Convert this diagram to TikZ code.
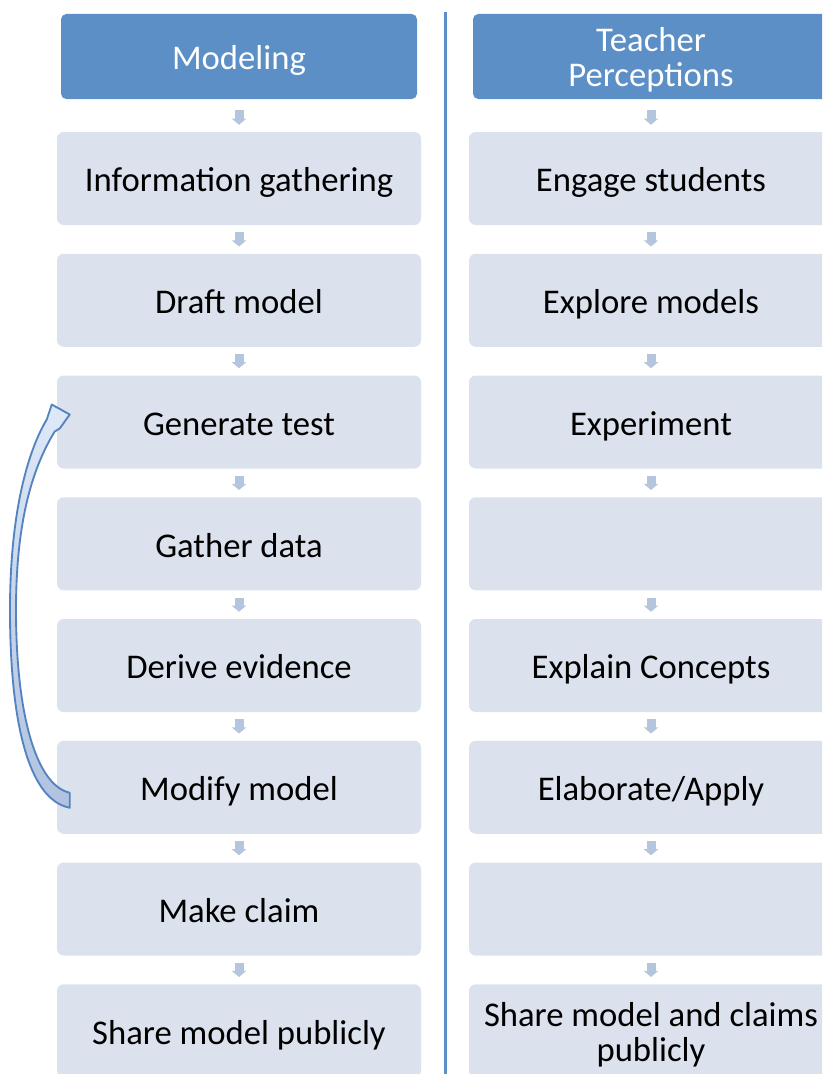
\documentclass[tikz,border=0pt]{standalone}
\usepackage{fontspec}
\setmainfont{Carlito}
\usetikzlibrary{arrows.meta,calc}
\definecolor{headblue}{RGB}{91,143,198}
\definecolor{boxgrey}{RGB}{219,226,237}
\definecolor{stubblue}{RGB}{180,197,222}
\definecolor{loopline}{RGB}{84,132,192}
\definecolor{looptop}{RGB}{222,233,248}
\definecolor{loopbottom}{RGB}{176,194,224}
\tikzset{
  headbox/.style={fill=headblue, rounded corners=4pt, text=white, align=center, minimum width=267pt, minimum height=63.75pt, inner sep=0pt, font=\fontsize{26}{26.25}\selectfont},
  stagebox/.style={fill=boxgrey, rounded corners=5pt, align=center, minimum width=273pt, minimum height=69.75pt, inner sep=0pt, font=\fontsize{26}{26.25}\selectfont},
  oneline/.style={text height=20pt, text depth=0pt},
  twoline/.style={text height=45.75pt, text depth=0pt},
  stub/.style={draw=stubblue, line width=6.75pt, shorten <=5.25pt, shorten >=5.25pt, -{Triangle[width=10.5pt,length=4.5pt]}},
  loopband/.style={top color=looptop, bottom color=loopbottom, draw=loopline, line width=1.4pt, line join=round},
  divider/.style={draw=headblue, line width=2.25pt}
}

\begin{document}
\begin{tikzpicture}[x=0.75pt,y=-0.75pt]
  \useasboundingbox (0,0) rectangle (822,1074);
  \clip (0,0) rectangle (822,1074);

  \node[headbox, oneline] (model) at (239,56.5) {Modeling};
  \node[stagebox, oneline] (info) at (239,178.5) {Information gathering};
  \node[stagebox, oneline] (draft) at (239,300.25) {Draft model};
  \node[stagebox, oneline] (gentest) at (239,422) {Generate test};
  \node[stagebox, oneline] (gather) at (239,543.75) {Gather data};
  \node[stagebox, oneline] (derive) at (239,665.5) {Derive evidence};
  \node[stagebox, oneline] (modify) at (239,787.25) {Modify model};
  \node[stagebox, oneline] (claim) at (239,909) {Make claim};
  \node[stagebox, oneline] (sharepub) at (239,1030.75) {Share model publicly};

  \node[headbox, twoline] (teacher) at (651,56.5) {Teacher\\Perceptions};
  \node[stagebox, oneline] (engage) at (651,178.5) {Engage students};
  \node[stagebox, oneline] (explore) at (651,300.25) {Explore models};
  \node[stagebox, oneline] (experiment) at (651,422) {Experiment};
  \node[stagebox] (blankone) at (651,543.75) {};
  \node[stagebox, oneline] (explain) at (651,665.5) {Explain Concepts};
  \node[stagebox, oneline] (elaborate) at (651,787.25) {Elaborate/Apply};
  \node[stagebox] (blanktwo) at (651,909) {};
  \node[stagebox, twoline] (shareclaims) at (651,1030.75) {Share model and claims\\publicly};

  \draw[divider] (445,12) -- (445,1074);

  \draw[stub, shorten <=8.25pt] (model) -- (info);
  \draw[stub] (info) -- (draft);
  \draw[stub] (draft) -- (gentest);
  \draw[stub] (gentest) -- (gather);
  \draw[stub] (gather) -- (derive);
  \draw[stub] (derive) -- (modify);
  \draw[stub] (modify) -- (claim);
  \draw[stub] (claim) -- (sharepub);

  \draw[stub, shorten <=8.25pt] (teacher) -- (engage);
  \draw[stub] (engage) -- (explore);
  \draw[stub] (explore) -- (experiment);
  \draw[stub] (experiment) -- (blankone);
  \draw[stub] (blankone) -- (explain);
  \draw[stub] (explain) -- (elaborate);
  \draw[stub] (elaborate) -- (blanktwo);
  \draw[stub] (blanktwo) -- (shareclaims);

  \coordinate (loopfoot) at ($(modify.west)+(13,13)$);
  \coordinate (looptip) at ($(gentest.west)+(13,-7.5)$);
  \draw[loopband] ($(loopfoot)+(0,7.5)$) .. controls +(-42,-8) and +(0,110) .. (10,610)
    .. controls +(0,-100) and +(-18,30) .. ($(looptip)+(-23,5)$) -- ($(looptip)+(-18,-10)$) -- (looptip)
    -- ($(looptip)+(-10,14)$) -- ($(looptip)+(-15,17)$)
    .. controls +(-24,39) and +(0,-84) .. (16,610)
    .. controls +(0,100) and +(-35,-8) .. ($(loopfoot)+(0,-7.5)$) -- cycle;
\end{tikzpicture}
\end{document}
